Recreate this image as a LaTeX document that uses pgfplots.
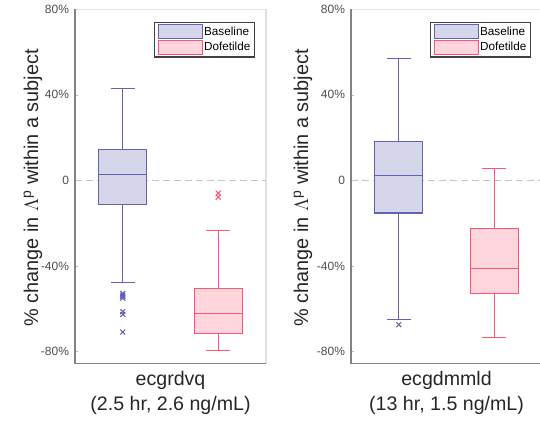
\documentclass[border=0pt]{standalone}
\usepackage{fontspec}
\setmainfont{Liberation Sans}
\usepackage{pgfplots}
\pgfplotsset{compat=1.18}
\usepgfplotslibrary{statistics}
\definecolor{bcol}{RGB}{98,98,178}
\definecolor{bfill}{RGB}{214,214,234}
\definecolor{dcol}{RGB}{255,84,112}
\definecolor{dfill}{RGB}{255,214,221}
\definecolor{tickgray}{RGB}{77,77,77}
\definecolor{framegray}{RGB}{130,130,130}
\definecolor{lightframe}{RGB}{225,225,225}
\definecolor{zerogray}{RGB}{196,196,196}
\definecolor{labelblack}{RGB}{38,38,38}
\pgfplotsset{
  legrect/.style={legend image code/.code={\draw[##1] (0pt,-5.2pt) rectangle (33pt,5.2pt);}},
  myaxis/.style={
    scale only axis, width=143.25pt, height=265.5pt,
    xmin=0.5, xmax=2.5, ymin=-85.4, ymax=80,
    xtick=\empty,
    ytick={-80,-40,0,40,80},
    yticklabels={-80\%,-40\%,0,40\%,80\%},
    yticklabel style={font=\fontsize{9}{10}\selectfont, text=tickgray, xshift=-1pt},
    ytick pos=left,
    major tick length=2pt, tick align=inside,
    tick style={draw=framegray!60, line width=0.5pt},
    axis line style={draw=lightframe, line width=0.8pt},
    clip=false,
    legend style={at={(rel axis cs:1,1)}, anchor=north east, xshift=-8.25pt, yshift=-9.3pt,
      draw=black!75, line width=0.9pt, fill=white,
      font=\fontsize{8.8}{10}\selectfont, text=black,
      inner xsep=2pt, inner ysep=1.5pt, row sep=0.5pt,
      nodes={inner xsep=1pt, inner ysep=1pt},
      cells={anchor=west}},
    boxplot/draw direction=y,
    boxplot/box extend=0.5, boxplot/whisker extend=0.25,
  }
}
\begin{document}
\begin{tikzpicture}
\useasboundingbox (0,0) rectangle (405pt,315.75pt);
% ---------------- left axis ----------------
\begin{axis}[myaxis, at={(56.25pt,43.3pt)}, anchor=south west]
\addplot[zerogray, line width=1.4pt, dash pattern=on 5.25pt off 3pt, forget plot] coordinates {(0.5,0) (2.5,0)};
\addlegendimage{draw=bcol, fill=bfill, line width=0.9pt, legrect}
\addlegendentry{Baseline}
\addlegendimage{draw=dcol, fill=dfill, line width=0.9pt, legrect}
\addlegendentry{Dofetilde}
\addplot[draw=bcol, fill=bfill, line width=0.8pt, forget plot,
  boxplot prepared={draw position=1, median=3, upper quartile=14.5, lower quartile=-11.4,
  upper whisker=43, lower whisker=-47.7}] coordinates {};
\addplot[only marks, mark=x, mark size=2.6pt, bcol, line width=0.8pt, forget plot] coordinates {
(1,-52.8) (1,-53.6) (1,-54.3) (1,-55.0) (1,-61.3) (1,-62.6) (1,-70.8)};
\addplot[draw=dcol, fill=dfill, line width=0.8pt, forget plot,
  boxplot prepared={draw position=2, median=-62.3, upper quartile=-50.3, lower quartile=-71.3,
  upper whisker=-23.5, lower whisker=-79.6}] coordinates {};
\addplot[only marks, mark=x, mark size=2.6pt, dcol, line width=0.8pt, forget plot] coordinates {
(2,-5.9) (2,-7.8)};
\draw[framegray, line width=1pt] (rel axis cs:0,1) -- (rel axis cs:0,0) -- (rel axis cs:1,0);
\end{axis}
% ---------------- right axis ----------------
\begin{axis}[myaxis, at={(263.25pt,43.3pt)}, anchor=south west]
\addplot[zerogray, line width=1.4pt, dash pattern=on 5.25pt off 3pt, forget plot] coordinates {(0.5,0) (2.5,0)};
\addlegendimage{draw=bcol, fill=bfill, line width=0.9pt, legrect}
\addlegendentry{Baseline}
\addlegendimage{draw=dcol, fill=dfill, line width=0.9pt, legrect}
\addlegendentry{Dofetilde}
\addplot[draw=bcol, fill=bfill, line width=0.8pt, forget plot,
  boxplot prepared={draw position=1, median=2.5, upper quartile=18.4, lower quartile=-15.2,
  upper whisker=57.2, lower whisker=-65.1}] coordinates {};
\addplot[only marks, mark=x, mark size=2.6pt, bcol, line width=0.8pt, forget plot] coordinates {
(1,-67.4)};
\addplot[draw=dcol, fill=dfill, line width=0.8pt, forget plot,
  boxplot prepared={draw position=2, median=-41.3, upper quartile=-22.4, lower quartile=-52.8,
  upper whisker=5.8, lower whisker=-73.2}] coordinates {};
\draw[framegray, line width=1pt] (rel axis cs:0,1) -- (rel axis cs:0,0) -- (rel axis cs:1,0);
\end{axis}
% ---------------- labels ----------------
\node[rotate=90, font=\fontsize{14.9}{17}\selectfont, text=labelblack] at (24.75pt,174.75pt)
  {\% change in $\Lambda$\textsuperscript{p} within a subject};
\node[rotate=90, font=\fontsize{14.9}{17}\selectfont, text=labelblack] at (227.25pt,174.75pt)
  {\% change in $\Lambda$\textsuperscript{p} within a subject};
\node[align=center, font=\fontsize{14.7}{18.75}\selectfont, text=labelblack] at (127.9pt,21.4pt)
  {ecgrdvq\\(2.5 hr, 2.6 ng/mL)};
\node[align=center, font=\fontsize{14.7}{18.75}\selectfont, text=labelblack] at (334.9pt,21.4pt)
  {ecgdmmld\\(13 hr, 1.5 ng/mL)};
\end{tikzpicture}
\end{document}
